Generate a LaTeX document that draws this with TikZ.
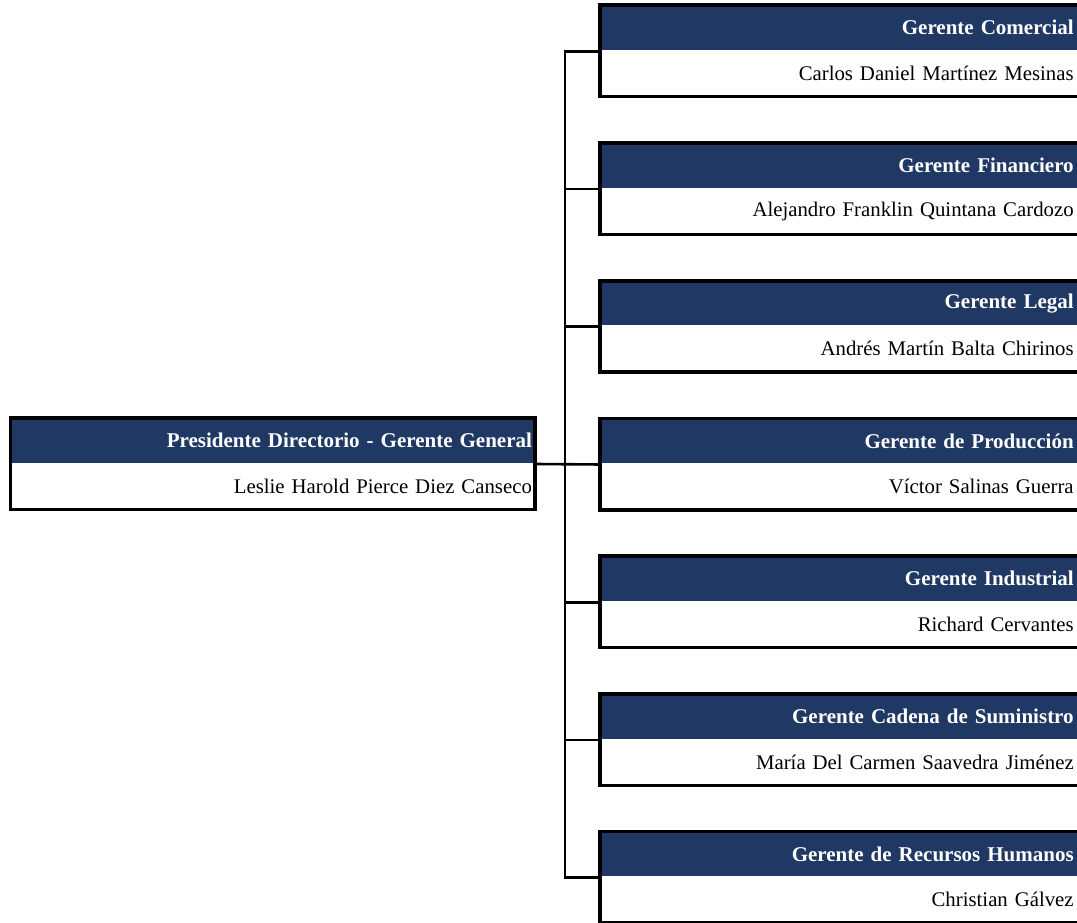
\documentclass[tikz,border=0pt]{standalone}
\usepackage{fontspec}
\setmainfont{Liberation Serif}
\definecolor{navy}{RGB}{32,56,100}
\tikzset{
  hdr/.style={rectangle, fill=navy, text=white, anchor=north west,
    font=\fontsize{21}{25}\selectfont\bfseries, minimum height=44.4pt,
    inner ysep=0pt, align=right},
  bdy/.style={rectangle, fill=white, text=black, anchor=north west,
    font=\fontsize{20.8}{25}\selectfont, minimum height=46.2pt,
    inner ysep=0pt, align=right},
  rbox/.style={inner xsep=4.5pt, text width=469pt},
  lbox/.style={inner xsep=3pt, text width=518.4pt},
  border/.style={draw=black, line width=3.6pt},
  conn/.style={draw=black, line width=2.6pt}
}
\begin{document}
\begin{tikzpicture}[x=1pt,y=-1pt]
\useasboundingbox (0,0) rectangle (1077,923);
% left box
\node[hdr,lbox] (ph) at (10.3,418) {Presidente Directorio - Gerente General};
\node[bdy,lbox] (pb) at (ph.south west) {Leslie Harold Pierce Diez Canseco};
\draw[border] (ph.north west) rectangle (pb.south east);
% right boxes
\foreach \i/\t/\n in {1/Gerente Comercial/Carlos Daniel Martínez Mesinas,
  2/Gerente Financiero/Alejandro Franklin Quintana Cardozo,
  3/Gerente Legal/Andrés Martín Balta Chirinos,
  4/Gerente de Producción/Víctor Salinas Guerra,
  5/Gerente Industrial/Richard Cervantes,
  6/Gerente Cadena de Suministro/María Del Carmen Saavedra Jiménez,
  7/Gerente de Recursos Humanos/Christian Gálvez}{
  \node[hdr,rbox] (h\i) at (600,{5.3+137.73*(\i-1)}) {\t};
  \node[bdy,rbox] (b\i) at (h\i.south west) {\n};
  \draw[border] (h\i.north west) rectangle (b\i.south east);
  \coordinate (j\i) at ([yshift=-1.2pt]h\i.south west);
}
\coordinate (jl) at ([yshift=-1.2pt]ph.south east);
\coordinate (spx) at (565,0);
\draw[conn] (j1) -- (j1 -| spx) -- (j7 -| spx) -- (j7);
\foreach \i in {2,3,5,6}{
  \draw[conn] (j\i) -- (j\i -| spx);
}
\draw[conn] (jl) -- (j4);
\end{tikzpicture}
\end{document}
